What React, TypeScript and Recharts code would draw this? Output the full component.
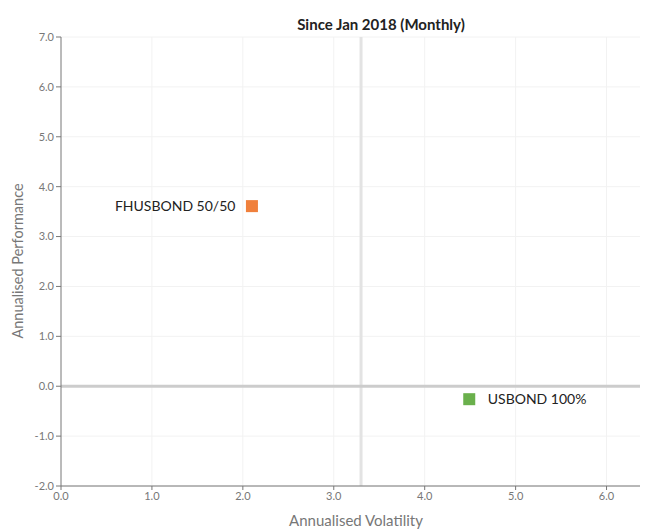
import React from "react";
import { ScatterChart, Scatter, XAxis, YAxis, CartesianGrid, ReferenceLine, LabelList } from "recharts";

const names = ["FHUSBOND 50/50", "USBOND 100%"];
const volatility = [2.1, 4.49];
const performance = [3.61, -0.26];
const colors = ["#F0803C", "#6AB04C"];
const xTicks = [0, 1, 2, 3, 4, 5, 6];
const yTicks = [-2, -1, 0, 1, 2, 3, 4, 5, 6, 7];
const avgVolatility = 3.3;
const title = "Since Jan 2018 (Monthly)";
const xTitle = "Annualised Volatility";
const yTitle = "Annualised Performance";

const font = "Lato, 'Open Sans', sans-serif";

const Square = (props: any) => {
  const { cx, cy, fill } = props;
  return <rect x={cx - 6} y={cy - 6} width={12} height={12} fill={fill} />;
};

export default function App() {
  const series = names.map((n, i) => ({ name: n, data: [{ x: volatility[i], y: performance[i], name: n }], color: colors[i] }));
  return (
    <div style={{ width: 640, height: 524, position: "relative", overflow: "hidden", fontFamily: font }}>
      <ScatterChart width={645} height={524} margin={{ top: 29, right: 1, bottom: 0, left: 0 }}>
        <CartesianGrid stroke="#f2f2f2" strokeWidth={1} vertical={false} />
        {xTicks.slice(1).map((t) => (
          <ReferenceLine key={"g" + t} x={t} stroke="#f2f2f2" strokeWidth={1} />
        ))}
        <XAxis
          type="number"
          dataKey="x"
          domain={[0, 6.5]}
          ticks={xTicks}
          tickFormatter={(v: number) => v.toFixed(1)}
          tick={{ fill: "#777", fontSize: 11, fontFamily: font }}
          axisLine={{ stroke: "#777" }}
          tickLine={{ stroke: "#777" }}
          tickSize={4}
          height={46}
        />
        <YAxis
          type="number"
          dataKey="y"
          domain={[-2, 7]}
          ticks={yTicks}
          tickFormatter={(v: number) => v.toFixed(1)}
          tick={{ fill: "#777", fontSize: 11, fontFamily: font }}
          axisLine={{ stroke: "#777" }}
          tickLine={{ stroke: "#777" }}
          tickSize={5}
          width={53}
        />
        <ReferenceLine x={avgVolatility} stroke="#e3e3e3" strokeWidth={3} />
        <ReferenceLine y={0} stroke="#cccccc" strokeWidth={3} />
        {series.map((s, i) => (
          <Scatter key={s.name} name={s.name} data={s.data} fill={s.color} shape={<Square />} isAnimationActive={false}>
            <LabelList
              dataKey="name"
              position={i === 0 ? "left" : "right"}
              offset={i === 0 ? 12 : 14}
              fill="#222"
              fontSize={14}
              fontFamily={font}
            />
          </Scatter>
        ))}
        <text x={373} y={22} textAnchor="middle" fontSize={15} fontWeight="bold" fill="#222" fontFamily={font}>
          {title}
        </text>
        <text x={348} y={518} textAnchor="middle" fontSize={15} fill="#777" fontFamily={font}>
          {xTitle}
        </text>
        <text x={15} y={253} transform="rotate(-90 15 253)" textAnchor="middle" fontSize={14.5} fill="#777" fontFamily={font}>
          {yTitle}
        </text>
      </ScatterChart>
    </div>
  );
}
